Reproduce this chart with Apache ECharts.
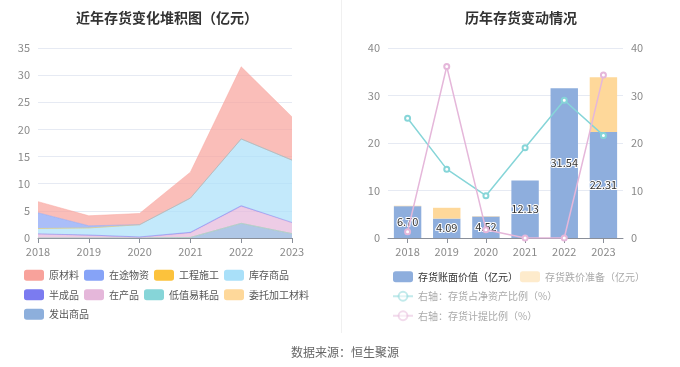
<!DOCTYPE html>
<html><head><meta charset="utf-8">
<script src="https://cdn.jsdelivr.net/npm/echarts@6.0.0/dist/echarts.min.js"></script>
<style>html,body{margin:0;padding:0;background:#fff}#c{width:680px;height:367px}</style>
</head><body><div id="c"></div>
<script>
const years = ['2018', '2019', '2020', '2021', '2022', '2023'];
// left: stacked inventory components (亿元)
const rawMaterial   = [2.05, 1.84, 2.07, 4.78, 13.29, 7.96];
const inTransit     = [2.90, 0.40, 0.00, 0.00, 0.00, 0.00];
const construction  = [0, 0, 0, 0, 0, 0];
const goodsInStock  = [1.00, 1.30, 2.25, 6.30, 12.30, 11.50];
const semiFinished  = [0.00, 0.10, 0.10, 0.15, 0.15, 0.05];
const workInProcess = [0.75, 0.45, 0.10, 0.80, 3.10, 2.00];
const lowValueItems = [0, 0, 0, 0, 0, 0];
const consignedMat  = [0, 0, 0, 0, 0, 0];
const goodsShipped  = [0.00, 0.00, 0.00, 0.10, 2.70, 0.80];
const leftTicks = [0, 5, 10, 15, 20, 25, 30, 35];
// right
const bookValue      = [6.70, 4.09, 4.52, 12.13, 31.54, 22.31];
const impairment     = [0.09, 2.27, 0.08, 0.00, 0.00, 11.54];
const netAssetRatio  = [25.2, 14.5, 8.9, 19.0, 29.0, 21.6];
const provisionRatio = [1.3, 36.1, 1.75, 0, 0, 34.3];
const rightTicks = [0, 10, 20, 30, 40];

const FONT = '"Noto Sans CJK SC", "Noto Sans", sans-serif';
const chart = echarts.init(document.getElementById('c'), null, {renderer: 'canvas'});

const stackDefs = [
  ['发出商品', goodsShipped, '#8dafdc'],
  ['委托加工材料', consignedMat, '#fed89a'],
  ['低值易耗品', lowValueItems, '#86d5d8'],
  ['在产品', workInProcess, '#e5b7da'],
  ['半成品', semiFinished, '#7b7bf0'],
  ['库存商品', goodsInStock, '#a9e0f9'],
  ['工程施工', construction, '#fcc23c'],
  ['在途物资', inTransit, '#86a3f7'],
  ['原材料', rawMaterial, '#f8a29b']
];
const leftLegendOrder = ['原材料', '在途物资', '工程施工', '库存商品', '半成品', '在产品', '低值易耗品', '委托加工材料', '发出商品'];

const leftSeries = stackDefs.map(d => ({
  name: d[0], type: 'line', stack: 'inv', xAxisIndex: 0, yAxisIndex: 0,
  data: d[1], color: d[2], showSymbol: false, symbol: 'none',
  lineStyle: {width: 0.6, opacity: 0.8}, areaStyle: {opacity: 0.7}, smooth: false
}));

const axisLabelStyle = {color: '#8a8a8a', fontSize: 11, fontFamily: FONT};
const splitStyle = {lineStyle: {color: '#e6eaf3'}};

chart.setOption({
  animation: false,
  textStyle: {fontFamily: FONT},
  title: [
    {text: '近年存货变化堆积图（亿元）', left: 162, top: 6, textAlign: 'center',
     textStyle: {fontSize: 14, fontWeight: 'bold', color: '#333', fontFamily: FONT}},
    {text: '历年存货变动情况', left: 516, top: 6, textAlign: 'center',
     textStyle: {fontSize: 14, fontWeight: 'bold', color: '#333', fontFamily: FONT}},
    {text: '数据来源：恒生聚源', left: 340, top: 341, textAlign: 'center',
     textStyle: {fontSize: 12, fontWeight: 'normal', color: '#666', fontFamily: FONT}}
  ],
  graphic: [{type: 'line', shape: {x1: 341.5, y1: 0, x2: 341.5, y2: 333}, style: {stroke: '#f0f0f0', lineWidth: 1}}],
  legend: [
    {data: leftLegendOrder, left: 24, top: 268, width: 300, padding: 0, icon: 'roundRect',
     itemWidth: 20, itemHeight: 11, itemGap: 5,
     textStyle: {fontSize: 10, color: '#555', lineHeight: 14.5, fontFamily: FONT}},
    {data: [
       {name: '存货账面价值（亿元）', icon: 'roundRect', textStyle: {color: '#333'}},
       {name: '存货跌价准备（亿元）', icon: 'roundRect', itemStyle: {opacity: 0.5}, textStyle: {color: '#aaa'}},
       {name: '右轴：存货占净资产比例（%）', itemStyle: {opacity: 0.5}, lineStyle: {opacity: 0.5}, textStyle: {color: '#aaa'}},
       {name: '右轴：存货计提比例（%）', itemStyle: {opacity: 0.5}, lineStyle: {opacity: 0.5}, textStyle: {color: '#aaa'}}
     ], left: 392, top: 268, width: 270, padding: 0,
     itemWidth: 20, itemHeight: 11, itemGap: 2,
     textStyle: {fontSize: 10, lineHeight: 17.5, fontFamily: FONT}}
  ],
  grid: [
    {left: 38, top: 48, width: 254, height: 190},
    {left: 388, top: 48, width: 235, height: 190}
  ],
  xAxis: [
    {type: 'category', gridIndex: 0, data: years, boundaryGap: false,
     axisLine: {lineStyle: {color: '#8a8f99'}}, axisTick: {show: true, lineStyle: {color: '#8a8f99'}},
     axisLabel: axisLabelStyle},
    {type: 'category', gridIndex: 1, data: years, boundaryGap: true,
     axisLine: {lineStyle: {color: '#8a8f99'}}, axisTick: {show: true, alignWithLabel: true, lineStyle: {color: '#8a8f99'}},
     axisLabel: axisLabelStyle}
  ],
  yAxis: [
    {type: 'value', gridIndex: 0, min: leftTicks[0], max: leftTicks[leftTicks.length - 1], interval: leftTicks[1] - leftTicks[0],
     axisLabel: axisLabelStyle, splitLine: splitStyle, axisLine: {show: false}, axisTick: {show: false}},
    {type: 'value', gridIndex: 1, min: rightTicks[0], max: rightTicks[rightTicks.length - 1], interval: rightTicks[1] - rightTicks[0],
     axisLabel: axisLabelStyle, splitLine: splitStyle, axisLine: {show: false}, axisTick: {show: false}},
    {type: 'value', gridIndex: 1, position: 'right', min: rightTicks[0], max: rightTicks[rightTicks.length - 1], interval: rightTicks[1] - rightTicks[0],
     axisLabel: axisLabelStyle, splitLine: {show: false}, axisLine: {show: false}, axisTick: {show: false}}
  ],
  series: leftSeries.concat([
    {name: '存货账面价值（亿元）', type: 'bar', stack: 'bar', xAxisIndex: 1, yAxisIndex: 1,
     data: bookValue, color: '#8eaedd', barWidth: '70%',
     label: {show: true, position: 'inside', fontSize: 11, color: '#333', textBorderColor: '#fff', textBorderWidth: 2,
             formatter: p => p.value.toFixed(2)}},
    {name: '存货跌价准备（亿元）', type: 'bar', stack: 'bar', xAxisIndex: 1, yAxisIndex: 1,
     data: impairment, color: '#fed89a', barWidth: '70%'},
    {name: '右轴：存货占净资产比例（%）', type: 'line', xAxisIndex: 1, yAxisIndex: 2,
     data: netAssetRatio, color: '#86d5d8', symbol: 'emptyCircle', symbolSize: 5,
     lineStyle: {width: 1.5}},
    {name: '右轴：存货计提比例（%）', type: 'line', xAxisIndex: 1, yAxisIndex: 2,
     data: provisionRatio, color: '#e5b7da', symbol: 'emptyCircle', symbolSize: 5,
     lineStyle: {width: 1.5}}
  ])
});
</script></body></html>
